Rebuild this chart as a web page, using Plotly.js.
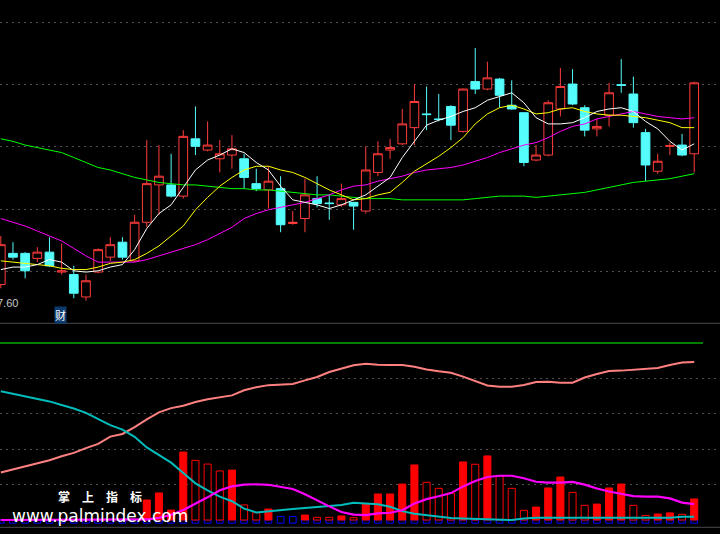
<!DOCTYPE html>
<html><head><meta charset="utf-8">
<script src="https://cdn.plot.ly/plotly-3.0.1.min.js"></script>
<style>html,body{margin:0;padding:0;background:#000;}#chart{width:720px;height:534px;}</style>
</head><body><div id="chart"></div>
<script>
// ---- price panel data (58 sessions) ----
const days = Array.from({length:58}, (_, i) => i);
const openP = [7.73,7.98,7.98,7.94,7.99,7.83,7.81,7.63,7.83,7.95,
  8.07,7.92,8.23,8.53,8.53,8.44,8.90,8.81,8.74,8.77,
  8.74,8.54,8.49,8.50,8.22,8.26,8.42,8.385,8.37,8.39,
  8.32,8.63,8.81,8.86,8.99,9.10,9.06,9.16,8.96,9.36,
  9.30,9.38,9.17,9.11,8.73,8.77,9.14,9.34,9.15,8.98,
  9.09,9.335,9.26,8.95,8.64,8.84,8.85,8.78];
const highP = [8.12,8.07,7.99,8.03,8.11,8.06,7.88,7.81,8.02,8.11,
  8.11,8.29,8.89,8.85,8.78,8.97,9.16,9.04,8.89,8.93,
  8.78,8.66,8.68,8.60,8.32,8.58,8.60,8.45,8.54,8.39,
  8.84,8.88,8.90,9.14,9.34,9.32,9.26,9.17,9.305,9.63,
  9.52,9.39,9.37,9.11,8.85,9.21,9.47,9.46,9.17,9.06,
  9.35,9.54,9.40,8.98,8.78,8.87,8.94,9.36];
const lowP = [7.70,7.93,7.78,7.91,7.87,7.81,7.62,7.60,7.82,7.92,
  7.93,7.91,8.19,8.29,8.43,8.42,8.77,8.80,8.63,8.66,
  8.50,8.48,8.34,8.15,8.21,8.15,8.35,8.25,8.355,8.17,
  8.30,8.60,8.74,8.85,8.85,8.97,9.04,8.89,8.95,9.26,
  9.29,9.15,9.135,8.68,8.72,8.76,9.08,9.17,8.92,8.92,
  9.00,9.27,8.99,8.56,8.62,8.77,8.76,8.63];
const closeP = [8.05,7.95,7.84,7.99,7.88,7.84,7.66,7.76,8.01,8.05,
  7.95,8.23,8.54,8.60,8.44,8.92,8.84,8.85,8.78,8.82,
  8.59,8.50,8.56,8.21,8.23,8.45,8.38,8.38,8.42,8.36,
  8.65,8.78,8.83,9.02,9.20,9.095,9.055,9.01,9.30,9.30,
  9.39,9.25,9.14,8.71,8.77,9.19,9.32,9.18,8.97,9.00,
  9.27,9.33,9.03,8.69,8.72,8.845,8.77,9.35];
const maWhite = [7.85,7.87,7.87,7.89,7.93,7.91,7.84,7.83,7.84,7.87,
  7.89,8.01,8.18,8.30,8.37,8.51,8.65,8.73,8.77,8.82,
  8.79,8.71,8.65,8.52,8.41,8.39,8.37,8.34,8.37,8.41,
  8.45,8.52,8.59,8.75,8.88,9.01,9.05,9.08,9.12,9.15,
  9.21,9.24,9.27,9.19,9.07,9.02,9.02,9.03,9.07,9.12,
  9.14,9.15,9.12,9.04,8.98,8.88,8.81,8.86];
const maYellow = [7.92,7.91,7.90,7.89,7.88,7.86,7.85,7.85,7.87,7.90,
  7.91,7.93,7.98,8.04,8.12,8.20,8.33,8.43,8.52,8.59,
  8.65,8.68,8.68,8.65,8.63,8.59,8.54,8.49,8.45,8.41,
  8.42,8.45,8.47,8.55,8.64,8.70,8.76,8.83,8.91,9.02,
  9.10,9.15,9.17,9.14,9.10,9.11,9.14,9.15,9.12,9.10,
  9.09,9.09,9.08,9.07,9.05,9.03,8.99,8.99];
const maMagenta = [8.26,8.23,8.20,8.16,8.12,8.08,8.02,7.96,7.91,7.91,
  7.91,7.91,7.93,7.96,7.99,8.02,8.05,8.09,8.14,8.19,
  8.26,8.30,8.33,8.35,8.37,8.39,8.42,8.45,8.49,8.52,
  8.53,8.56,8.58,8.60,8.63,8.65,8.66,8.67,8.69,8.72,
  8.75,8.79,8.82,8.85,8.87,8.91,8.96,9.00,9.02,9.06,
  9.08,9.10,9.12,9.10,9.08,9.07,9.06,9.07];
const maGreen = [8.90,8.88,8.85,8.83,8.81,8.79,8.75,8.71,8.67,8.65,
  8.62,8.59,8.57,8.55,8.54,8.53,8.53,8.52,8.51,8.50,
  8.50,8.49,8.49,8.48,8.47,8.46,8.45,8.45,8.44,8.43,
  8.42,8.42,8.42,8.41,8.41,8.41,8.41,8.41,8.41,8.42,
  8.43,8.44,8.44,8.44,8.43,8.44,8.45,8.46,8.47,8.49,
  8.51,8.53,8.55,8.56,8.57,8.58,8.60,8.62];
const minLowLabel = "7.60";

// ---- indicator panel data ----
const indSalmon = [26.8,28.5,30.2,31.8,33.8,36,37.9,40.6,43,47.1,
  48.6,52.5,56.9,60.8,63.2,64.6,66.7,68.2,69.3,70.4,
  73.3,75,76.2,76.3,76.8,78.9,80.8,83.6,85.3,87.4,
  88.3,87.7,87.6,87.6,86.6,85,84,83.2,81,78.4,
  76,75.3,75.3,76.3,78,78.1,77.6,77.6,80.5,82.5,
  84.2,84.4,84.9,85.5,85.9,87.6,89,89.3];
const indTeal = [72.8,71.3,69.8,68.3,67,65,63,60.5,57.2,53.6,
  51.1,47,41,36.5,32.4,26.5,20.7,16.7,13.2,10.6,
  6.4,4.3,4.8,5.4,6.2,6.8,7.5,8.1,8.5,9.8,
  9.5,8.9,7.5,5,3.5,2.6,1.7,1.1,0.8,0.6,
  0.2,0,0,0.8,1.3,1.3,1.3,1.3,1.3,1.3,
  1.3,1.3,1.3,1.3,1.3,1.3,1.9,1.9];
const indMagenta = [0,0,0,0,0,0,0,0,0,0,
  0,0,0.3,1.2,3,5.6,9,12.8,16.8,19,
  20,20.2,19.9,18.8,17.5,14.5,11,7.7,4.5,3,
  2.8,3.7,4.1,5.5,9.3,11.8,13.4,15.2,19,22,
  24.3,25,25,23.6,21.6,21.1,21.1,21.5,20,17.8,
  16.1,14.6,13.5,13.2,13.2,12.2,9.8,9];
const barsFilled = [null,null,null,null,null,null,null,null,null,null,
  null,null,11.3,15.3,5.6,38.4,null,null,null,28.2,
  null,null,6.2,null,null,2.8,null,null,2.3,null,
  9,14.7,14.7,20.3,31.1,null,null,null,32.8,null,
  36.2,null,null,null,7.3,18.1,24.3,null,null,9,
  18.1,20.3,null,null,3.4,4,null,11.9];
const barsHollow = [null,null,null,null,null,null,null,null,null,null,
  null,null,null,null,null,null,33.7,31.6,27.7,null,
  8.5,4.1,null,null,null,null,1.5,1.5,null,1.3,
  null,null,null,null,null,21.3,17.9,15.1,null,31.5,
  null,24.9,17.9,5.5,null,null,null,15.6,8.3,null,
  null,null,8.3,2.6,null,null,3.2,null];
const blueTop = [0,0,0,0,0,0,0,0,0,0,
  0,0,0,0,0,0,0,0,0,0,
  0,0,0,2,2,0,0,0,0,0,
  0,0,0,0,0,0,0,0,0,0,
  0,0,0,0,0,0,0,0,0,0,
  0,0,0,0,0,0,0,0];
const blueBottom = -1.8;
const refLevel = 100;

// ---- helpers for pixel placement of decorations ----
const W = 720, H = 534;
const px = x => x / W;
const py = y => (H - y) / H;

const traces = [
  {type:'candlestick', x:days, open:openP, high:highP, low:lowP, close:closeP,
   xaxis:'x', yaxis:'y', whiskerwidth:0, hoverinfo:'skip',
   increasing:{line:{color:'#ff3c3c', width:1}, fillcolor:'#000000'},
   decreasing:{line:{color:'#54fcfc', width:1}, fillcolor:'#54fcfc'}},
  {type:'scatter', mode:'lines', x:days, y:maGreen, yaxis:'y', line:{color:'#00ff00', width:1}, hoverinfo:'skip'},
  {type:'scatter', mode:'lines', x:days, y:maMagenta, yaxis:'y', line:{color:'#ff00ff', width:1}, hoverinfo:'skip'},
  {type:'scatter', mode:'lines', x:days, y:maYellow, yaxis:'y', line:{color:'#ffff00', width:1}, hoverinfo:'skip'},
  {type:'scatter', mode:'lines', x:days, y:maWhite, yaxis:'y', line:{color:'#ffffff', width:1}, hoverinfo:'skip'},
  // indicator panel
  {type:'bar', x:days, y:blueTop.map(v => v - blueBottom), base:blueBottom, yaxis:'y2', width:0.55,
   marker:{color:'rgba(0,0,0,0)', line:{color:'#0000ff', width:1}}, hoverinfo:'skip'},
  {type:'bar', x:days, y:barsHollow, yaxis:'y2', width:0.58,
   marker:{color:'#000000', line:{color:'#ff0000', width:1}}, hoverinfo:'skip'},
  {type:'bar', x:days, y:barsFilled, yaxis:'y2', width:0.58,
   marker:{color:'#ff0000', line:{color:'#ff0000', width:1}}, hoverinfo:'skip'},
  {type:'scatter', mode:'lines', x:days, y:indSalmon, yaxis:'y2', line:{color:'#ff8080', width:2}, hoverinfo:'skip'},
  {type:'scatter', mode:'lines', x:days, y:indTeal, yaxis:'y2', line:{color:'#00bcbc', width:2}, hoverinfo:'skip'},
  {type:'scatter', mode:'lines', x:days, y:indMagenta, yaxis:'y2', line:{color:'#ff00ff', width:2.2}, hoverinfo:'skip'}
];

const layout = {
  width:W, height:H, margin:{l:0,r:0,t:0,b:0,pad:0},
  paper_bgcolor:'#000000', plot_bgcolor:'#000000', showlegend:false,
  boxgap:0.285, boxgroupgap:0, barmode:'overlay',
  xaxis:{range:[-0.066, 59.12], visible:false, rangeslider:{visible:false}, fixedrange:true},
  yaxis:{domain:[0.397, 1], range:[7.4289, 10.0153], showticklabels:false, ticks:'',
    zeroline:false, showline:false, tick0:7.836, dtick:0.5,
    showgrid:true, gridcolor:'#505050', griddash:'2px,4px', gridwidth:1, fixedrange:true},
  yaxis2:{domain:[0.01296, 0.3908], range:[-4, 110], anchor:'x', showticklabels:false, ticks:'',
    zeroline:false, showline:false, tickvals:[20,40,60,80],
    showgrid:true, gridcolor:'#505050', griddash:'2px,4px', gridwidth:1, fixedrange:true},
  shapes:[
    {type:'line', xref:'paper', yref:'paper', x0:0, x1:1, y0:py(323.3), y1:py(323.3), line:{color:'#4a4a4a', width:1}},
    {type:'line', xref:'paper', yref:'paper', x0:0, x1:1, y0:py(527.3), y1:py(527.3), line:{color:'#4a4a4a', width:1}},
    {type:'line', xref:'paper', yref:'y2', x0:0, x1:px(703), y0:refLevel, y1:refLevel, line:{color:'#00ff00', width:1}}
  ],
  annotations:[
    {text:minLowLabel, xref:'paper', yref:'y', x:px(19.5), y:7.60, xanchor:'right', yanchor:'middle', yshift:-2,
     showarrow:false, font:{family:'Liberation Sans, Arial, sans-serif', size:11, color:'#c8c8c8'}},
    {text:'财', xref:'paper', yref:'paper', x:px(60.3), y:py(315.3), xanchor:'center', yanchor:'middle',
     showarrow:false, bgcolor:'#0b3a6e', borderpad:0,
     font:{family:'Noto Sans CJK SC, sans-serif', size:11, color:'#ffffff'}},
    {text:'<b>掌　上　指　标</b>', xref:'paper', yref:'paper', x:px(100), y:py(496), xanchor:'center', yanchor:'middle',
     showarrow:false, font:{family:'Noto Sans CJK SC, sans-serif', size:12, color:'#ffffff'}},
    {text:'www.palmindex.com', xref:'paper', yref:'paper', x:px(99.5), y:py(516), xanchor:'center', yanchor:'middle',
     showarrow:false, font:{family:'DejaVu Sans, sans-serif', size:17, color:'#ffffff'}}
  ]
};

Plotly.newPlot('chart', traces, layout, {staticPlot:true, displayModeBar:false});
</script></body></html>
